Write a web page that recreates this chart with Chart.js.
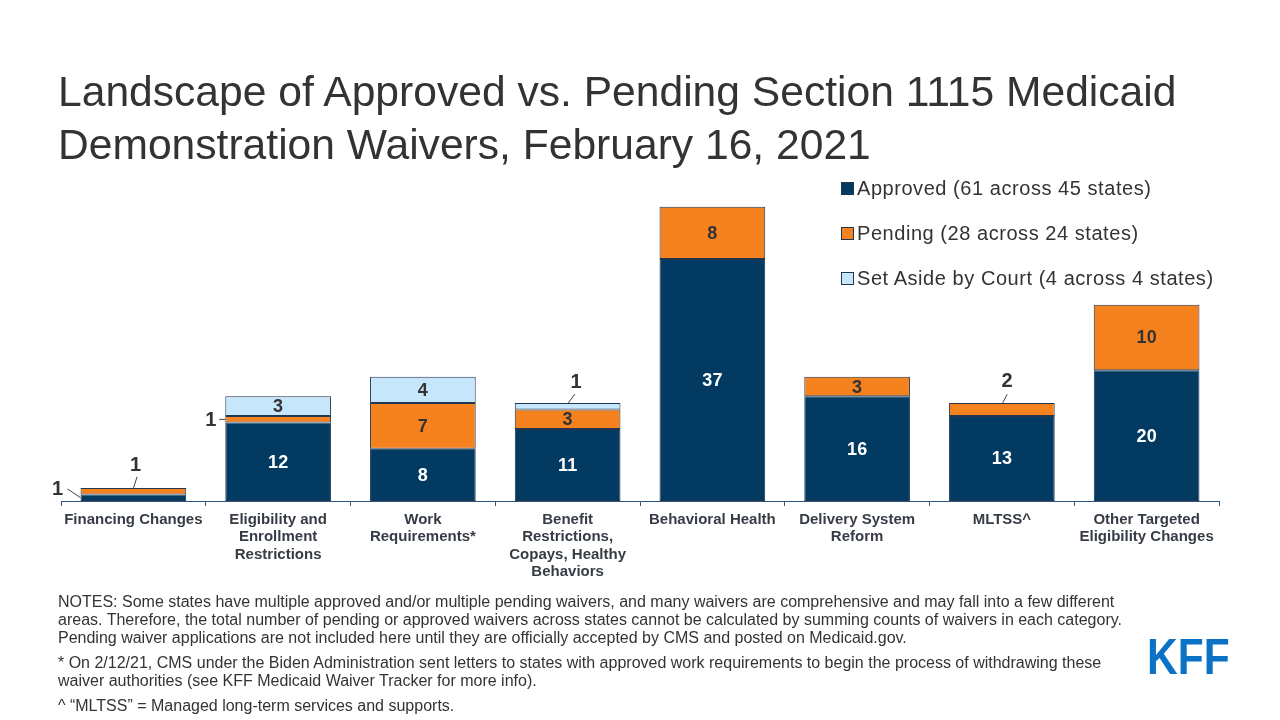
<!DOCTYPE html>
<html><head><meta charset="utf-8">
<script src="https://cdn.jsdelivr.net/npm/chart.js@4/dist/chart.umd.min.js"></script>
<style>
html,body{margin:0;padding:0;background:#fff;}
#wrap{position:relative;width:1280px;height:720px;overflow:hidden;font-family:"Liberation Sans",Arial,sans-serif;}
#c{position:absolute;left:0;top:0;}
#title{position:absolute;left:58px;top:65px;font-size:42.6px;line-height:52.5px;color:#333;white-space:nowrap;}
#legend{position:absolute;left:841px;top:166px;color:#333;font-size:20px;letter-spacing:0.55px;}
#legend .row{height:45px;display:flex;align-items:center;white-space:nowrap;}
#legend .sw{width:11px;height:11px;border:1px solid #1f3550;margin-right:3px;}
#notes{position:absolute;left:58px;top:593px;font-size:16px;line-height:18px;color:#333;white-space:nowrap;}
#notes p{margin:0 0 7px 0;}
#kff{position:absolute;left:1147px;top:632px;font-weight:bold;font-size:50px;line-height:50px;color:#0b72c6;transform:scaleX(0.85);transform-origin:0 0;}
</style></head>
<body><div id="wrap">
<canvas id="c" width="1280" height="720"></canvas>
<div id="title">Landscape of Approved vs. Pending Section 1115 Medicaid<br>Demonstration Waivers, February 16, 2021</div>
<div id="legend"></div>
<div id="notes">
<p>NOTES: Some states have multiple approved and/or multiple pending waivers, and many waivers are comprehensive and may fall into a few different<br>areas. Therefore, the total number of pending or approved waivers across states cannot be calculated by summing counts of waivers in each category.<br>Pending waiver applications are not included here until they are officially accepted by CMS and posted on Medicaid.gov.</p>
<p>* On 2/12/21, CMS under the Biden Administration sent letters to states with approved work requirements to begin the process of withdrawing these<br>waiver authorities (see KFF Medicaid Waiver Tracker for more info).</p>
<p>^ “MLTSS” = Managed long-term services and supports.</p>
</div>
<div id="kff">KFF</div>
</div>
<script>
const categories = [
  "Financing Changes",
  ["Eligibility and","Enrollment","Restrictions"],
  ["Work","Requirements*"],
  ["Benefit","Restrictions,","Copays, Healthy","Behaviors"],
  "Behavioral Health",
  ["Delivery System","Reform"],
  "MLTSS^",
  ["Other Targeted","Eligibility Changes"]
];
const approved = [1, 12, 8, 11, 37, 16, 13, 20];
const pending  = [1, 1, 7, 3, 8, 3, 2, 10];
const setAside = [0, 3, 4, 1, 0, 0, 0, 0];
const seriesNames = [
  "Approved (61 across 45 states)",
  "Pending (28 across 24 states)",
  "Set Aside by Court (4 across 4 states)"
];
const seriesColors = ["#033a61", "#f5821f", "#c6e6fb"];
const labelColors = ["#ffffff", "#333333", "#333333"];

// Positions of labels drawn outside small segments (offsets from segment's left edge / top)
const outsideLabels = [
  {ds:0, i:0, lx:-23, ly:-4.5, x1:-13, y1:-5.5, x2:0, y2:3.2},
  {ds:1, i:0, lx:55, ly:-22, x1:56.5, y1:-11, x2:53, y2:0},
  {ds:1, i:1, lx:-14.6, ly:4.8, x1:-6, y1:3.4, x2:0, y2:3.4},
  {ds:2, i:3, lx:61.2, ly:-20.2, x1:60.2, y1:-8.9, x2:53.5, y2:0},
  {ds:1, i:6, lx:57.9, ly:-21.2, x1:58.2, y1:-8.6, x2:53.6, y2:0}
];

// HTML legend
const lg = document.getElementById('legend');
seriesNames.forEach((n, k) => {
  const r = document.createElement('div'); r.className = 'row';
  const s = document.createElement('div'); s.className = 'sw'; s.style.background = seriesColors[k];
  const t = document.createElement('span'); t.textContent = n;
  r.appendChild(s); r.appendChild(t); lg.appendChild(r);
});

const labelPlugin = {
  id: 'segLabels',
  afterDatasetsDraw(chart) {
    const ctx = chart.ctx;
    ctx.save();
    ctx.textAlign = 'center';
    ctx.textBaseline = 'middle';
    chart.data.datasets.forEach((ds, d) => {
      const meta = chart.getDatasetMeta(d);
      meta.data.forEach((el, i) => {
        const v = ds.data[i];
        if (!v) return;
        const o = outsideLabels.find(q => q.ds === d && q.i === i);
        const p = el.getProps(['x','y','base','width'], true);
        if (o) {
          const left = p.x - p.width / 2, top = p.y;
          ctx.strokeStyle = '#404040'; ctx.lineWidth = 1;
          ctx.beginPath(); ctx.moveTo(left + o.x1, top + o.y1); ctx.lineTo(left + o.x2, top + o.y2); ctx.stroke();
          ctx.fillStyle = '#333333';
          ctx.font = 'bold 20px "Liberation Sans", Arial, sans-serif';
          ctx.fillText(String(v), left + o.lx, top + o.ly);
        } else {
          ctx.fillStyle = labelColors[d];
          ctx.font = 'bold 18px "Liberation Sans", Arial, sans-serif';
          ctx.fillText(String(v), p.x, (p.y + p.base) / 2 + 1);
        }
      });
    });
    ctx.restore();
  }
};

new Chart(document.getElementById('c'), {
  type: 'bar',
  data: {
    labels: categories,
    datasets: [approved, pending, setAside].map((arr, k) => ({
      label: seriesNames[k],
      data: arr,
      backgroundColor: seriesColors[k],
      borderColor: '#22374f',
      borderWidth: 1,
      borderSkipped: false,
      categoryPercentage: 1.0,
      barPercentage: 0.73
    }))
  },
  options: {
    responsive: false,
    animation: false,
    layout: { padding: { left: 61, right: 61, top: 174, bottom: 0 } },
    plugins: { legend: { display: false }, title: { display: false }, tooltip: { enabled: false } },
    scales: {
      y: { stacked: true, min: 0, max: 50, display: false },
      x: {
        stacked: true,
        afterFit: (s) => { s.height = 219; },
        grid: { display: true, drawOnChartArea: false, drawTicks: true, tickLength: 5, color: '#2e5580', offset: true },
        border: { display: true, color: '#2e5580', width: 1 },
        ticks: {
          color: '#363c45',
          padding: 5,
          maxRotation: 0,
          autoSkip: false,
          font: { family: '"Liberation Sans", Arial, sans-serif', size: 15, weight: 'bold', lineHeight: 1.167 }
        }
      }
    }
  },
  plugins: [labelPlugin]
});
</script>
</body></html>
